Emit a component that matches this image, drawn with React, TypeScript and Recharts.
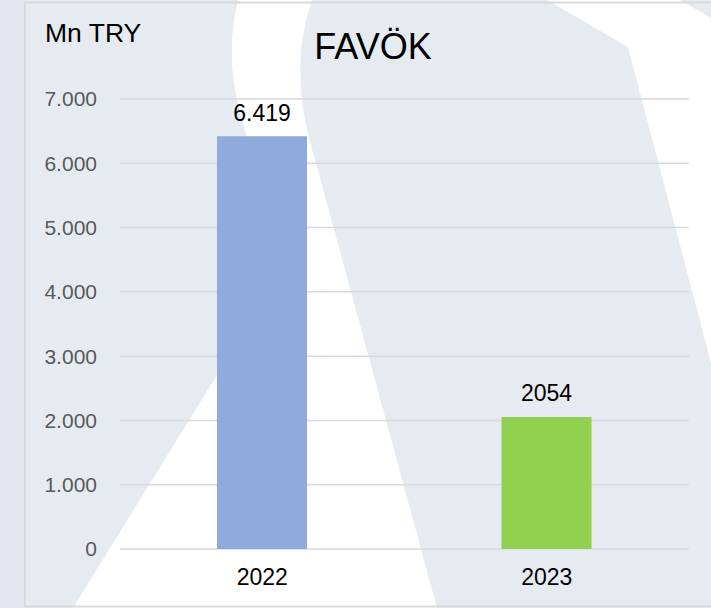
import React from 'react';
import { BarChart, Bar, XAxis, YAxis, CartesianGrid, Cell, LabelList } from 'recharts';

const categories = ['2022', '2023'];
const favokValues = [6419, 2054];
const valueLabels = ['6.419', '2054'];
const barColors = ['#8FAADC', '#92D050'];
const yTicks = [0, 1000, 2000, 3000, 4000, 5000, 6000, 7000];
const yTickLabels = ['0', '1.000', '2.000', '3.000', '4.000', '5.000', '6.000', '7.000'];

const chartTitle = 'FAVÖK';
const unitLabel = 'Mn TRY';

const data = categories.map((c, i) => ({ year: c, value: favokValues[i], label: valueLabels[i] }));

const FONT = '"Liberation Sans", Arial, sans-serif';

export default function App() {
  return (
    <div style={{ position: 'absolute', left: 0, top: 0, width: 711, height: 608, overflow: 'hidden' }}>
      <svg width={711} height={608} style={{ position: 'absolute', left: 0, top: 0 }}>
        <rect x={0} y={0} width={711} height={608} fill="#e6ebf2" />
        <rect x={0} y={0} width={25} height={608} fill="#e3e8f0" />
        <path
          d="M238,0 C229,40 228,80 248,140 L217,375 L73,608 L437,608 L317,167 C300,110 292,60 312,0 Z"
          fill="#ffffff"
        />
        <path d="M547,0 L628,47 L711,363 L711,0 Z" fill="#ffffff" />
        <path d="M680,0 L711,18 L711,0 Z" fill="#e6ebf2" />
        <rect x={25} y={2.5} width={700} height={604} fill="none" stroke="#d9d9d9" strokeWidth={2} />
        <text x={45} y={41.5} fontFamily={FONT} fontSize={26.5} fill="#000000">{unitLabel}</text>
        <text x={373} y={58.5} fontFamily={FONT} fontSize={36} fill="#000000" textAnchor="middle">{chartTitle}</text>
      </svg>
      <div style={{ position: 'absolute', left: 0, top: 0 }}>
        <BarChart
          width={711}
          height={608}
          data={data}
          margin={{ top: 99, right: 22, bottom: 0, left: 0 }}
          barSize={90}
        >
          <CartesianGrid vertical={false} stroke="#d9d9d9" strokeWidth={1.5} />
          <XAxis
            dataKey="year"
            axisLine={false}
            tickLine={false}
            tickSize={0}
            tickMargin={20}
            height={59}
            tick={{ fontFamily: FONT, fontSize: 23, fill: '#000000' }}
          />
          <YAxis
            width={120}
            domain={[0, 7000]}
            ticks={yTicks}
            interval={0}
            axisLine={false}
            tickLine={false}
            tickSize={0}
            tickMargin={23}
            tickFormatter={(v: number) => yTickLabels[yTicks.indexOf(v)] ?? String(v)}
            tick={{ fontFamily: FONT, fontSize: 21, fill: '#595959' }}
          />
          <Bar dataKey="value" isAnimationActive={false}>
            {data.map((d, i) => (
              <Cell key={d.year} fill={barColors[i]} />
            ))}
            <LabelList
              dataKey="label"
              position="top"
              offset={15.5}
              style={{ fontFamily: FONT, fontSize: 23, fill: '#000000' }}
            />
          </Bar>
        </BarChart>
      </div>
    </div>
  );
}
